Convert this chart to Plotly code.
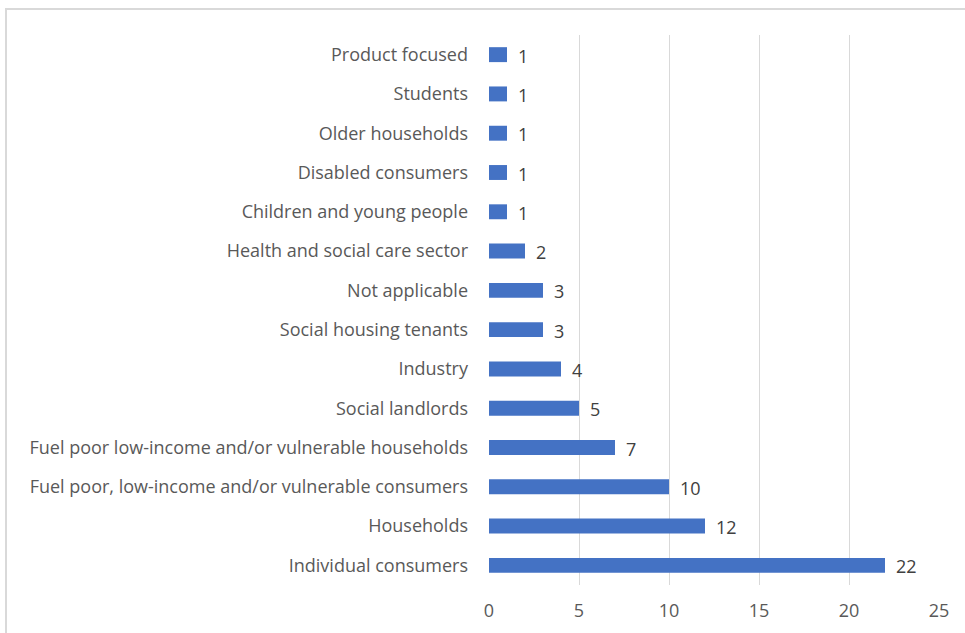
import plotly.graph_objects as go

categories = [
    "Individual consumers",
    "Households",
    "Fuel poor, low-income and/or vulnerable consumers",
    "Fuel poor low-income and/or vulnerable households",
    "Social landlords",
    "Industry",
    "Social housing tenants",
    "Not applicable",
    "Health and social care sector",
    "Children and young people",
    "Disabled consumers",
    "Older households",
    "Students",
    "Product focused",
]
values = [22, 12, 10, 7, 5, 4, 3, 3, 2, 1, 1, 1, 1, 1]
x_ticks = [0, 5, 10, 15, 20, 25]

W, H = 965, 633
ml, mr, mt, mb = 489, 26, 35, 48
pw, ph = W - ml - mr, H - mt - mb

def px_to_paper_x(px):
    return (px - ml) / pw

def px_to_paper_y(py):
    return (H - mb - py) / ph

fig = go.Figure(go.Bar(
    y=categories,
    x=values,
    orientation="h",
    marker=dict(color="#4472C4", line=dict(width=0)),
    hoverinfo="x+y",
))

for c, v in zip(categories, values):
    fig.add_annotation(
        x=v, y=c, text=str(v), showarrow=False,
        xanchor="left", xshift=9, yshift=-1,
        font=dict(size=18, color="#404040"),
    )

fig.update_layout(
    width=W, height=H,
    margin=dict(l=ml, r=mr, t=mt, b=mb, autoexpand=False),
    paper_bgcolor="white",
    plot_bgcolor="white",
    font=dict(family="Open Sans, Segoe UI, sans-serif", size=18, color="#595959"),
    bargap=0.62,
    showlegend=False,
    xaxis=dict(
        range=[0, 25],
        tickvals=x_ticks,
        showgrid=True,
        gridcolor="#d9d9d9",
        gridwidth=1,
        zeroline=False,
        showline=False,
        ticks="",
        automargin=False,
        ticklabelstandoff=13,
        tickfont=dict(size=18, color="#595959"),
    ),
    yaxis=dict(
        categoryorder="array",
        categoryarray=categories,
        showgrid=False,
        ticks="",
        automargin=False,
        ticklabelstandoff=20,
        tickfont=dict(size=18, color="#595959"),
    ),
    shapes=[dict(
        type="rect", xref="paper", yref="paper",
        x0=px_to_paper_x(6), x1=px_to_paper_x(968),
        y0=px_to_paper_y(640), y1=px_to_paper_y(9),
        line=dict(color="#d9d9d9", width=2),
        fillcolor="rgba(0,0,0,0)",
        layer="below",
    )],
)

fig.write_html("out.html")
